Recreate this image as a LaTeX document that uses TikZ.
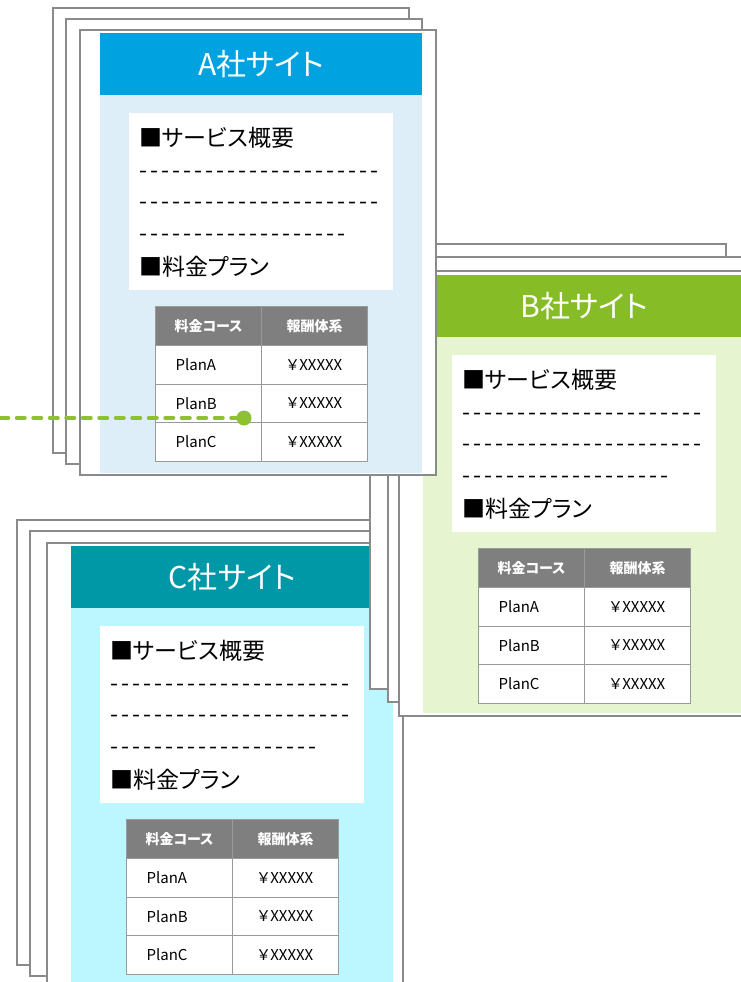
\documentclass[tikz,border=0pt]{standalone}
\usepackage{fontspec}
\setmainfont{Noto Sans CJK JP}[RawFeature=+palt]
\definecolor{pagegray}{HTML}{8A8A8A}
\definecolor{cellgray}{HTML}{9A9A9A}
\definecolor{headgray}{HTML}{7F7F7F}
\definecolor{aHead}{HTML}{00A3E0}
\definecolor{aBody}{HTML}{DDEEF9}
\definecolor{bHead}{HTML}{86BC25}
\definecolor{bBody}{HTML}{E6F5D0}
\definecolor{cHead}{HTML}{0097A7}
\definecolor{cBody}{HTML}{BCF6FE}
\definecolor{linkgreen}{HTML}{8DC12F}
\newcommand\myhy{\makebox[11pt]{-}}
\newcommand\hyrow[1]{\foreach\k in {1,...,#1}{\myhy}}
\newcommand\yenval{￥\kern1pt XXXXX}
\newcommand\sitepanel[7]{%
  \node[fill=#5, minimum width=322pt, minimum height=#7pt, anchor=north west, inner sep=0] (#1-body) at (#2,#3) {};
  \node[fill=#4, minimum width=322pt, minimum height=62pt, anchor=north west, inner sep=0, text=white, font=\fontsize{30}{34}\selectfont] (#1-head) at (#2,#3) {#6};
  \node[fill=white, minimum width=264pt, minimum height=177pt, anchor=north west, inner sep=0] (#1-box) at ({#2+29},{#3+80}) {};
  \node[bodytext] (#1-t1) at ({#2+39},{#3+113}) {■サービス概要};
  \node[bodytext] (#1-d1) at ({#2+38},{#3+145}) {\hyrow{22}};
  \node[bodytext] (#1-d2) at ({#2+38},{#3+176}) {\hyrow{22}};
  \node[bodytext] (#1-d3) at ({#2+38},{#3+208}) {\hyrow{19}};
  \node[bodytext] (#1-t2) at ({#2+39},{#3+242}) {■料金プラン};
  \node[hcell] (#1-h1) at ({#2+55},{#3+273}) {料金コース};
  \node[hcell] (#1-h2) at ({#2+161},{#3+273}) {報酬体系};
  \node[lcell] (#1-a1) at ({#2+55},{#3+312}) {PlanA};
  \node[rcell] (#1-a2) at ({#2+161},{#3+312}) {\yenval};
  \node[lcell] (#1-b1) at ({#2+55},{#3+350.5}) {PlanB};
  \node[rcell] (#1-b2) at ({#2+161},{#3+350.5}) {\yenval};
  \node[lcell] (#1-c1) at ({#2+55},{#3+389}) {PlanC};
  \node[rcell] (#1-c2) at ({#2+161},{#3+389}) {\yenval};
}
\begin{document}
\begin{tikzpicture}[x=1pt, y=-1pt,
  page/.style={draw=pagegray, line width=2pt, fill=white, minimum width=356pt, minimum height=445pt, anchor=north west, inner sep=0, outer sep=0},
  bodytext/.style={anchor=base west, inner sep=0, font=\fontsize{23}{28}\selectfont},
  hcell/.style={draw=cellgray, line width=1.2pt, fill=headgray, text=white, font=\fontsize{14}{16}\selectfont\bfseries, minimum width=106pt, minimum height=39pt, anchor=north west, inner sep=0},
  lcell/.style={draw=cellgray, line width=1.2pt, fill=white, font=\fontsize{15}{17}\selectfont, text width=66pt, inner xsep=20pt, inner ysep=0, minimum height=38.5pt, align=left, anchor=north west},
  rcell/.style={draw=cellgray, line width=1.2pt, fill=white, font=\fontsize{15}{17}\selectfont, minimum width=106pt, minimum height=38.5pt, inner sep=0, anchor=north west},
  dot/.style={circle, fill=linkgreen, minimum size=15pt, inner sep=0},
  dashline/.style={draw=linkgreen, line width=3.5pt, line cap=round, dash pattern=on 8.5pt off 8pt}
]
\clip (0,0) rectangle (741,982);
% C stack
\node[page] (C-p1) at (17,520) {};
\node[page] (C-p2) at (30,531) {};
\node[page] (C-p3) at (47,543) {};
\sitepanel{C}{71}{546}{cHead}{cBody}{C社サイト}{440}
% B stack
\node[page] (B-p1) at (370,244) {};
\node[page] (B-p2) at (388,257) {};
\node[page] (B-p3) at (399,271) {};
\sitepanel{B}{423}{275}{bHead}{bBody}{B社サイト}{438}
% A stack
\node[page] (A-p1) at (53,8) {};
\node[page] (A-p2) at (66,19) {};
\node[page] (A-p3) at (80,30) {};
\sitepanel{A}{100}{33}{aHead}{aBody}{A社サイト}{440}
% link
\coordinate (linkstart) at (0,418);
\node[circle, minimum size=15pt, inner sep=0] (linkdot) at (244,418) {};
\draw[dashline] (linkstart) -- (linkdot.center);
\node[dot] (linkdotfill) at (linkdot) {};
\end{tikzpicture}
\end{document}
